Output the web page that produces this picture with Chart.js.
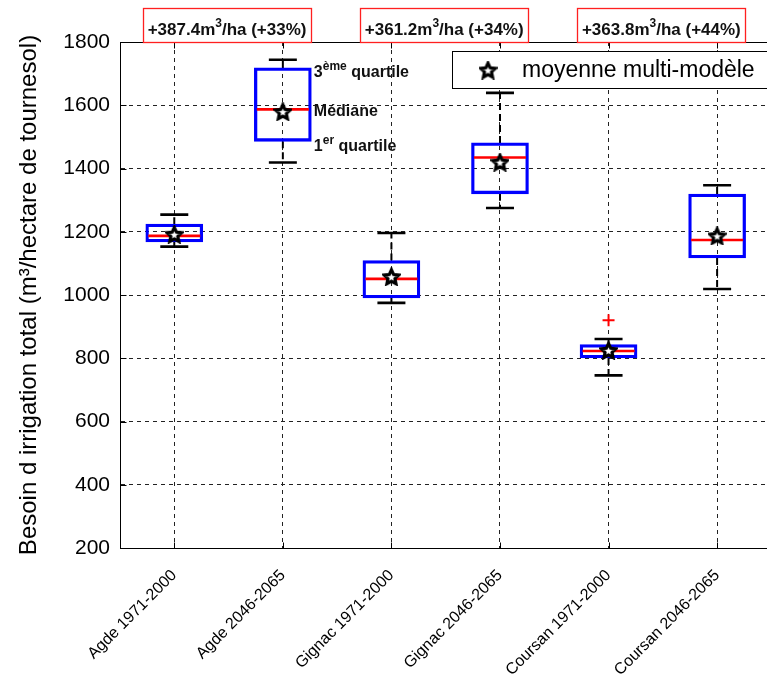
<!DOCTYPE html>
<html>
<head>
<meta charset="utf-8">
<script src="https://cdn.jsdelivr.net/npm/chart.js@4/dist/chart.umd.min.js"></script>
<style>
  html, body { margin: 0; padding: 0; background: #fff; overflow: hidden; width: 767px; height: 681px; }
  canvas { display: block; }
</style>
</head>
<body>
<canvas id="c" width="800" height="681"></canvas>
<script>
// ---------------- data ----------------
const categories = ['Agde 1971-2000', 'Agde 2046-2065', 'Gignac 1971-2000', 'Gignac 2046-2065', 'Coursan 1971-2000', 'Coursan 2046-2065'];
const whiskerLow  = [1153, 1419,  975, 1275,  746, 1019];
const quartile1   = [1168, 1486,  991, 1320,  801, 1117];
const medians     = [1187, 1587, 1051, 1435,  823, 1174];
const quartile3   = [1224, 1718, 1109, 1481,  843, 1319];
const whiskerHigh = [1254, 1744, 1196, 1639,  861, 1347];
const means       = [1192, 1580, 1058, 1420,  825, 1187];
const outlierCategories = ['Coursan 1971-2000'];
const outlierValues     = [920];
const changeAmounts  = ['+387.4', '+361.2', '+363.8'];
const changePercents = ['(+33%)', '(+34%)', '(+44%)'];
const yMin = 200, yMax = 1800, yStep = 200;
const yTitle = 'Besoin d irrigation total (m\u00B3/hectare de tournesol)';
const legendLabel = 'moyenne multi-mod\u00E8le';

// ---------------- helpers ----------------
const FONT = '"Liberation Sans", Arial, sans-serif';
function makeStar(size, lw) {
  const c = document.createElement('canvas');
  c.width = size; c.height = size;
  const g = c.getContext('2d');
  const cx = size / 2, cy = size / 2 + 0.8;
  const R = size / 2 - lw / 2 - 0.2, r = R * 0.48;
  g.beginPath();
  for (let k = 0; k < 10; k++) {
    const ang = -Math.PI / 2 + k * Math.PI / 5;
    const rad = (k % 2) ? r : R;
    g.lineTo(cx + rad * Math.cos(ang), cy + rad * Math.sin(ang));
  }
  g.closePath();
  g.fillStyle = '#fff'; g.fill();
  g.lineWidth = lw; g.strokeStyle = '#000'; g.lineJoin = 'miter';
  g.stroke();
  return c;
}
const starImg = makeStar(19, 3.2);

function whiskerData() {
  const pts = [];
  categories.forEach((c, i) => {
    pts.push({x: c, y: quartile3[i]}, {x: c, y: whiskerHigh[i]}, {x: c, y: null});
    pts.push({x: c, y: quartile1[i]}, {x: c, y: whiskerLow[i]}, {x: c, y: null});
  });
  return pts;
}
function capData() {
  const pts = [];
  categories.forEach((c, i) => { pts.push({x: c, y: whiskerHigh[i]}, {x: c, y: whiskerLow[i]}); });
  return pts;
}

function richWidth(ctx, parts) {
  let w = 0;
  parts.forEach(p => { ctx.font = p.font; w += ctx.measureText(p.t).width; });
  return w;
}
function drawRich(ctx, parts, x, y) {
  let cx = x;
  parts.forEach(p => {
    ctx.font = p.font;
    ctx.fillText(p.t, cx, y - (p.rise || 0));
    cx += ctx.measureText(p.t).width;
  });
}

const decorPlugin = {
  id: 'decor',
  afterDraw(chart) {
    const ctx = chart.ctx;
    const a = chart.chartArea;
    const xs = chart.scales.x, ys = chart.scales.y;
    ctx.save();
    ctx.strokeStyle = '#000'; ctx.lineWidth = 1; ctx.setLineDash([]);
    const L = Math.round(a.left) + 0.5, T = Math.round(a.top) + 0.5, B = Math.round(a.bottom) + 0.5, R = Math.round(a.right) + 0.5;
    ctx.beginPath();
    ctx.moveTo(R, T); ctx.lineTo(L, T); ctx.lineTo(L, B); ctx.lineTo(R, B);
    ctx.stroke();
    ctx.beginPath();
    categories.forEach((c, i) => {
      const px = Math.round(xs.getPixelForValue(i)) + 0.5;
      ctx.moveTo(px, T); ctx.lineTo(px, T + 6);
      ctx.moveTo(px, B); ctx.lineTo(px, B - 6);
    });
    for (let v = yMin; v <= yMax; v += yStep) {
      const py = Math.round(ys.getPixelForValue(v)) + 0.5;
      ctx.moveTo(L, py); ctx.lineTo(L + 6, py);
    }
    ctx.stroke();

    ctx.textBaseline = 'alphabetic';
    for (let k = 0; k < 3; k++) {
      const cx = (xs.getPixelForValue(2 * k) + xs.getPixelForValue(2 * k + 1)) / 2 - 1.5;
      const bw = 168;
      ctx.strokeStyle = '#ff2020'; ctx.lineWidth = 1.3;
      ctx.strokeRect(Math.round(cx - bw / 2) + 0.5, 8.5, bw, 34);
      const parts = [
        {t: changeAmounts[k] + 'm', font: 'bold 17px ' + FONT},
        {t: '3', font: 'bold 12px ' + FONT, rise: 8},
        {t: '/ha ' + changePercents[k], font: 'bold 17px ' + FONT}
      ];
      const w = richWidth(ctx, parts);
      ctx.fillStyle = '#111';
      drawRich(ctx, parts, cx - w / 2, 35);
    }

    const ax = xs.getPixelForValue(1) + 31;
    ctx.fillStyle = '#111';
    ctx.textBaseline = 'alphabetic';
    const yq3 = ys.getPixelForValue(quartile3[1]);
    const ymed = ys.getPixelForValue(medians[1]);
    const yq1 = ys.getPixelForValue(quartile1[1]);
    drawRich(ctx, [
      {t: '3', font: 'bold 16px ' + FONT},
      {t: '\u00E8me', font: 'bold 12px ' + FONT, rise: 7},
      {t: ' quartile', font: 'bold 16px ' + FONT}
    ], ax, yq3 + 9);
    drawRich(ctx, [{t: 'M\u00E9diane', font: 'bold 16px ' + FONT}], ax, ymed + 7);
    drawRich(ctx, [
      {t: '1', font: 'bold 16px ' + FONT},
      {t: 'er', font: 'bold 12px ' + FONT, rise: 7},
      {t: ' quartile', font: 'bold 16px ' + FONT}
    ], ax, yq1 + 10);

    ctx.fillStyle = '#fff';
    ctx.fillRect(452.5, 51.5, 400, 37);
    ctx.strokeStyle = '#000'; ctx.lineWidth = 1;
    ctx.strokeRect(452.5, 51.5, 400, 37);
    ctx.drawImage(starImg, 488 - starImg.width / 2, 70 - starImg.height / 2);
    ctx.fillStyle = '#000';
    ctx.font = '23px ' + FONT;
    ctx.textBaseline = 'middle';
    ctx.fillText(legendLabel, 522, 71);
    ctx.restore();
  }
};

new Chart(document.getElementById('c'), {
  type: 'bar',
  data: {
    labels: categories,
    datasets: [
      {
        type: 'line', label: 'mean',
        data: categories.map((c, i) => ({x: c, y: means[i]})),
        showLine: false, pointStyle: starImg, pointRadius: 9, order: 0
      },
      {
        type: 'line', label: 'outliers',
        data: outlierCategories.map((c, i) => ({x: c, y: outlierValues[i]})),
        showLine: false, pointStyle: 'cross', pointRadius: 6,
        pointBorderWidth: 2, pointBorderColor: '#ff0000', order: 1
      },
      {
        type: 'line', label: 'median',
        data: categories.map((c, i) => ({x: c, y: medians[i]})),
        showLine: false, pointStyle: 'line', pointRadius: 26,
        pointBorderWidth: 2.6, pointBorderColor: '#ff0000', order: 2
      },
      {
        type: 'line', label: 'caps',
        data: capData(),
        showLine: false, pointStyle: 'line', pointRadius: 14,
        pointBorderWidth: 2.6, pointBorderColor: '#000', order: 3
      },
      {
        type: 'bar', label: 'box',
        data: categories.map((c, i) => [quartile1[i], quartile3[i]]),
        backgroundColor: 'rgba(0,0,0,0)', borderColor: '#0000ff',
        borderWidth: 2.6, borderSkipped: false, barThickness: 57, order: 4
      },
      {
        type: 'line', label: 'whiskers',
        data: whiskerData(),
        borderColor: '#000', borderWidth: 2, borderDash: [7, 4],
        pointRadius: 0, spanGaps: false, order: 5
      }
    ]
  },
  options: {
    responsive: false,
    animation: false,
    events: [],
    layout: { padding: { top: 42, right: 22.6, left: 0, bottom: 0 } },
    plugins: { legend: { display: false }, tooltip: { enabled: false } },
    scales: {
      x: {
        type: 'category',
        offset: true,
        grid: { offset: false, color: '#222', lineWidth: 1, drawTicks: false },
        border: { display: true, color: '#000', width: 1, dash: [4, 4] },
        ticks: {
          autoSkip: false, maxRotation: 45, minRotation: 45,
          color: '#000', font: { family: FONT, size: 16 }, padding: 18
        },
        afterFit(s) { s.height = 133; }
      },
      y: {
        min: yMin, max: yMax,
        grid: { color: '#222', lineWidth: 1, drawTicks: false },
        border: { display: true, color: '#000', width: 1, dash: [4, 4] },
        ticks: {
          stepSize: yStep, color: '#000', font: { family: FONT, size: 21 }, padding: 10,
          callback: (v) => String(v)
        },
        title: {
          display: true, text: yTitle, color: '#000',
          font: { family: FONT, size: 24, weight: 'normal' },
          padding: { top: 15, bottom: 0 },
          align: 'center'
        },
        afterFit(s) { s.width = 120; }
      }
    }
  },
  plugins: [decorPlugin]
});
</script>
</body>
</html>
